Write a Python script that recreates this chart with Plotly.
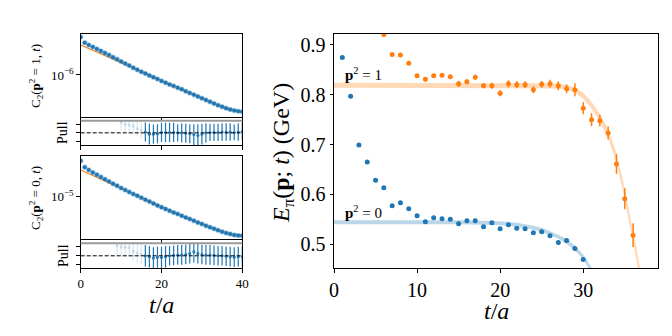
import plotly.graph_objects as go

BLUE = "#1f77b4"
ORANGE = "#ff7f0e"
FONT = "Liberation Serif"
W, H = 672, 336

# ---- left panels: log10 C2(t), t = 0..40 ----
t_corr = list(range(41))
log_c2_p1 = [-3.889, -4.206, -4.333, -4.444, -4.556, -4.667, -4.778, -4.894, -5.011, -5.128,
             -5.244, -5.361, -5.478, -5.594, -5.711, -5.817, -5.922, -6.022, -6.128, -6.228,
             -6.333, -6.428, -6.522, -6.611, -6.706, -6.800, -6.900, -7.000, -7.100, -7.200,
             -7.300, -7.394, -7.489, -7.583, -7.678, -7.767, -7.850, -7.922, -7.978, -8.022, -8.044]
log_fit_p1 = [-4.333, -4.433, -4.533, -4.633, -4.733, -4.833, -4.933, -5.033, -5.133, -5.233,
              -5.333, -5.433, -5.533, -5.633, -5.733, -5.833, -5.933, -6.033, -6.133, -6.233,
              -6.333, -6.428, -6.522, -6.616, -6.710, -6.805, -6.900, -7.000, -7.100, -7.200,
              -7.300, -7.394, -7.489, -7.583, -7.678, -7.767, -7.850, -7.922, -7.978, -8.022, -8.044]
log_c2_p0 = [-3.560, -3.824, -3.932, -4.028, -4.120, -4.212, -4.304, -4.392, -4.480, -4.564,
             -4.648, -4.728, -4.808, -4.888, -4.964, -5.040, -5.116, -5.192, -5.268, -5.344,
             -5.420, -5.488, -5.556, -5.624, -5.692, -5.760, -5.828, -5.892, -5.960, -6.024,
             -6.092, -6.156, -6.220, -6.280, -6.340, -6.396, -6.444, -6.488, -6.524, -6.548, -6.560]
log_fit_p0 = [-3.932, -4.006, -4.079, -4.153, -4.227, -4.301, -4.374, -4.448, -4.522, -4.595,
              -4.669, -4.743, -4.816, -4.890, -4.964, -5.040, -5.116, -5.192, -5.268, -5.344,
              -5.420, -5.488, -5.556, -5.624, -5.692, -5.760, -5.828, -5.892, -5.960, -6.024,
              -6.092, -6.156, -6.220, -6.280, -6.340, -6.396, -6.444, -6.488, -6.524, -6.548, -6.560]

# ---- pulls ----
fit_start = 16
pull_t_p1 = list(range(10, 41))
pull_p1 = [1.2, 1.0, 0.9, 0.8, 0.5, 0.3, 0.1, -0.15, -0.15, -0.1, 0.05, 0.05, 0.05, 0.05, 0.0,
           0.0, -0.05, -0.1, -0.2, -0.3, -0.15, 0.0, 0.05, 0.05, 0.05, 0.1, 0.1, 0.1, 0.05, 0.1, 0.15]
pull_err_p1 = [1.0, 1.0, 1.0, 0.9, 0.9, 1.0, 1.1, 1.2, 1.1, 1.1, 1.1, 1.1, 1.1, 1.1, 1.0, 1.1,
               1.1, 1.1, 1.2, 1.3, 1.2, 1.1, 1.0, 1.0, 1.0, 1.0, 1.0, 1.0, 0.9, 1.0, 1.0]
pull_t_p0 = list(range(9, 41))
pull_p0 = [1.1, 1.0, 0.95, 0.9, 0.5, 0.3, 0.15, 0.0, -0.1, -0.25, -0.15, -0.2, -0.1, 0.0, 0.05,
           0.1, 0.1, 0.15, 0.25, 0.45, 0.25, 0.15, 0.1, 0.1, 0.05, 0.0, 0.0, -0.05, -0.1, -0.15,
           -0.1, -0.1]
pull_err_p0 = [0.9, 1.0, 1.0, 1.0, 1.0, 1.1, 1.1, 1.2, 1.2, 1.2, 1.2, 1.2, 1.2, 1.1, 1.1, 1.1,
               1.1, 1.1, 1.1, 1.2, 1.1, 1.1, 1.1, 1.1, 1.1, 1.1, 1.1, 1.1, 1.1, 1.1, 1.1, 1.1]

# ---- right panel: effective energies ----
e_t_p0 = list(range(1, 31))
e_p0 = [0.875, 0.797, 0.699, 0.665, 0.628, 0.613, 0.577, 0.583, 0.571, 0.557, 0.545, 0.553,
        0.551, 0.550, 0.541, 0.547, 0.547, 0.535, 0.543, 0.531, 0.539, 0.532, 0.531, 0.523,
        0.525, 0.517, 0.503, 0.507, 0.491, 0.469]
e_err_p0 = [0.002] * 15 + [0.003] * 10 + [0.004] * 5
e_t_p1 = list(range(6, 37))
e_p1 = [0.921, 0.881, 0.880, 0.863, 0.838, 0.831, 0.838, 0.839, 0.836, 0.822, 0.826, 0.835,
        0.818, 0.818, 0.803, 0.822, 0.820, 0.820, 0.810, 0.821, 0.822, 0.818, 0.812, 0.810,
        0.773, 0.750, 0.748, 0.723, 0.661, 0.591, 0.518]
e_err_p1 = [0.003, 0.003, 0.003, 0.003, 0.003, 0.004, 0.004, 0.004, 0.004, 0.006, 0.005, 0.005,
            0.005, 0.006, 0.006, 0.007, 0.007, 0.007, 0.007, 0.007, 0.008, 0.009, 0.009, 0.013,
            0.012, 0.013, 0.012, 0.013, 0.020, 0.021, 0.024]

band_t_p0 = [0, 5, 10, 15, 20, 22, 24, 25, 26, 27, 28, 29, 30, 30.5, 31, 31.5]
band_p0 = [0.544, 0.544, 0.544, 0.544, 0.542, 0.539, 0.533, 0.529, 0.522, 0.515, 0.505, 0.492,
           0.474, 0.462, 0.448, 0.432]
band_hw_p0 = [0.004] * 10 + [0.005] * 6
band_t_p1 = [0, 5, 10, 15, 20, 25, 27, 28, 29, 30, 31, 32, 33, 34, 35, 36, 36.5, 37]
band_p1 = [0.819, 0.819, 0.819, 0.819, 0.819, 0.818, 0.817, 0.815, 0.809, 0.798, 0.779, 0.754,
           0.722, 0.673, 0.600, 0.515, 0.472, 0.428]
band_hw_p1 = [0.005] * 9 + [0.006, 0.007, 0.008, 0.009, 0.010, 0.011, 0.012, 0.012, 0.012]


def px_x(a, b):
    return [a / W, b / W]


def px_y(top, bottom):
    return [1 - bottom / H, 1 - top / H]


fig = go.Figure()

# left main panels
for ax, logs, fits in [("1", log_c2_p1, log_fit_p1), ("3", log_c2_p0, log_fit_p0)]:
    xa, ya = "x" if ax == "1" else "x" + ax, "y" if ax == "1" else "y" + ax
    fig.add_trace(go.Scatter(x=t_corr, y=[10 ** v for v in fits], mode="lines",
                             line=dict(color=ORANGE, width=1.2), xaxis=xa, yaxis=ya))
    fig.add_trace(go.Scatter(x=t_corr, y=[10 ** v for v in logs], mode="markers",
                             marker=dict(color=BLUE, size=4,
                                         line=dict(color="rgba(31,119,180,0.35)", width=1.5)),
                             xaxis=xa, yaxis=ya))

# pull panels
for ax, tt, pp, ee in [("2", pull_t_p1, pull_p1, pull_err_p1), ("4", pull_t_p0, pull_p0, pull_err_p0)]:
    pre = [i for i, t in enumerate(tt) if t < fit_start]
    fit = [i for i, t in enumerate(tt) if t >= fit_start]
    for idx, col in [(pre, "rgba(31,119,180,0.18)"), (fit, BLUE)]:
        fig.add_trace(go.Scatter(
            x=[tt[i] for i in idx], y=[pp[i] for i in idx], mode="markers",
            marker=dict(color=col, size=3),
            error_y=dict(type="data", array=[ee[i] for i in idx], color=col, thickness=1.2, width=0),
            xaxis="x" + ax, yaxis="y" + ax))
    fig.add_shape(type="line", x0=0, x1=40, y0=0, y1=0, xref="x" + ax, yref="y" + ax,
                  line=dict(color="black", width=1, dash="4px,2px"))

# right panel bands
for bt, bc, bh, rgba in [(band_t_p0, band_p0, band_hw_p0, "rgba(31,119,180,0.3)"),
                         (band_t_p1, band_p1, band_hw_p1, "rgba(255,127,14,0.3)")]:
    fig.add_trace(go.Scatter(x=bt, y=[c - h for c, h in zip(bc, bh)], mode="lines",
                             line=dict(width=0), xaxis="x5", yaxis="y5", hoverinfo="skip"))
    fig.add_trace(go.Scatter(x=bt, y=[c + h for c, h in zip(bc, bh)], mode="lines",
                             line=dict(width=0), fill="tonexty", fillcolor=rgba,
                             xaxis="x5", yaxis="y5", hoverinfo="skip"))

for tt, ee, er, col in [(e_t_p0, e_p0, e_err_p0, BLUE), (e_t_p1, e_p1, e_err_p1, ORANGE)]:
    fig.add_trace(go.Scatter(x=tt, y=ee, mode="markers", marker=dict(color=col, size=5),
                             error_y=dict(type="data", array=er, color=col, thickness=1.5, width=0),
                             xaxis="x5", yaxis="y5"))

axis_common = dict(showline=True, linecolor="black", linewidth=1, ticks="outside",
                   ticklen=3.5, tickwidth=0.8, tickcolor="black", showgrid=False, zeroline=False,
                   automargin=False, tickfont=dict(family=FONT, size=13, color="black"))

left_x = px_x(80.7, 242.3)
layout = dict(
    width=W, height=H, margin=dict(l=0, r=0, t=0, b=0, autoexpand=False),
    paper_bgcolor="white", plot_bgcolor="white", showlegend=False,
    font=dict(family=FONT, color="black"),
)
# top main
layout["xaxis"] = dict(axis_common, domain=left_x, range=[0, 40], tickvals=[0, 20, 40],
                       showticklabels=False, mirror=True, anchor="y")
layout["yaxis"] = dict(axis_common, domain=px_y(34, 116.7), type="log", range=[-8.32, -3.72],
                       tickvals=[1e-6], ticktext=["10<sup>−6</sup>"], mirror=True, anchor="x")
# top pull
layout["xaxis2"] = dict(axis_common, domain=left_x, range=[0, 40], tickvals=[0, 20, 40],
                        showticklabels=False, anchor="y2")
layout["yaxis2"] = dict(axis_common, domain=px_y(120.7, 145), range=[-1.4, 1.4],
                        tickvals=[-1, 0, 1], showticklabels=False, mirror=True, anchor="x2")
# bottom main
layout["xaxis3"] = dict(axis_common, domain=left_x, range=[0, 40], tickvals=[0, 20, 40],
                        showticklabels=False, mirror=True, anchor="y3")
layout["yaxis3"] = dict(axis_common, domain=px_y(156, 239.3), type="log", range=[-6.70, -3.37],
                        tickvals=[1e-5], ticktext=["10<sup>−5</sup>"], mirror=True, anchor="x3")
# bottom pull
layout["xaxis4"] = dict(axis_common, domain=left_x, range=[0, 40], tickvals=[0, 20, 40],
                        anchor="y4")
layout["yaxis4"] = dict(axis_common, domain=px_y(243.3, 268.3), range=[-1.4, 1.4],
                        tickvals=[-1, 0, 1], showticklabels=False, mirror=True, anchor="x4")
# right panel
big = dict(family=FONT, size=20, color="black")
layout["xaxis5"] = dict(axis_common, domain=px_x(334, 658), range=[0, 39], tickvals=[0, 10, 20, 30],
                        tickfont=big, mirror=True, anchor="y5")
layout["yaxis5"] = dict(axis_common, domain=px_y(34, 268), range=[0.452, 0.922],
                        tickvals=[0.5, 0.6, 0.7, 0.8, 0.9], tickfont=big, mirror=True, anchor="x5")
fig.update_layout(**layout)

# gray top edge of the pull panels
for top in (120.7, 243.3):
    fig.add_shape(type="line", xref="paper", yref="paper", x0=left_x[0], x1=left_x[1],
                  y0=1 - top / H, y1=1 - top / H, line=dict(color="#9a9a9a", width=2))


def note(text, x, y, size, angle=0, xref="paper", yref="paper"):
    fig.add_annotation(text=text, x=x, y=y, xref=xref, yref=yref, showarrow=False,
                       xanchor="center", yanchor="middle", textangle=angle,
                       font=dict(family=FONT, size=size, color="black"))


note("C<sub>2</sub>(<b>p</b><sup>2</sup> = 1, <i>t</i>)", 36 / W, 1 - 76 / H, 13, -90)
note("C<sub>2</sub>(<b>p</b><sup>2</sup> = 0, <i>t</i>)", 36 / W, 1 - 198 / H, 13, -90)
note("Pull", 63 / W, 1 - 133 / H, 14, -90)
note("Pull", 63 / W, 1 - 256 / H, 14, -90)
note("<i>t</i>/<i>a</i>", 161.5 / W, 1 - 305 / H, 24)
note("<i>t</i>/<i>a</i>", 496 / W, 1 - 311 / H, 24)
note("<i>E</i><sub>π</sub>(<b>p</b>; <i>t</i>) (GeV)", 283 / W, 1 - 153 / H, 24, -90)
note("<b>p</b><sup>2</sup> = 1", 3.6, 0.842, 15, xref="x5", yref="y5")
note("<b>p</b><sup>2</sup> = 0", 3.6, 0.564, 15, xref="x5", yref="y5")

fig.write_html("out.html", config={"displayModeBar": False},
               post_script="document.body.style.margin = '0';")
